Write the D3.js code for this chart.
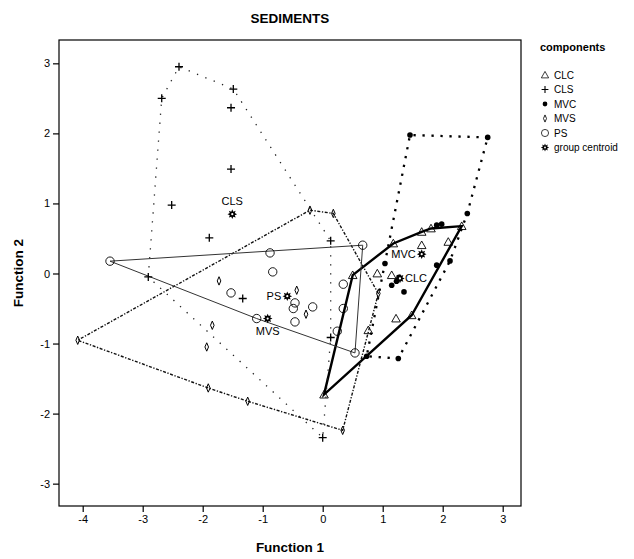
<!DOCTYPE html>
<html><head><meta charset="utf-8">
<script src="https://cdnjs.cloudflare.com/ajax/libs/d3/7.8.5/d3.min.js"></script>
<style>body{margin:0;background:#fff}svg{display:block}text{font-family:Arial,"Liberation Sans",sans-serif}</style>
</head><body><svg id="c" width="634" height="559"></svg>
<script>
// ---- data (Function 1 = x, Function 2 = y) ----
const groups = ["CLC", "CLS", "MVC", "MVS", "PS"];
const clcX = [0.022, 0.500, 1.177, 1.650, 1.805, 2.317, 1.650, 2.093, 0.910, 1.150, 1.222, 1.483, 0.760];
const clcY = [-1.729, -0.024, 0.429, 0.594, 0.643, 0.676, 0.404, 0.451, 0.000, -0.024, -0.643, -0.596, -0.810];
const clsX = [-2.395, -2.683, -1.490, -1.528, -1.528, -2.517, -1.890, -2.907, -1.333, 0.133, 0.133, 0.000];
const clsY = [2.951, 2.500, 2.633, 2.366, 1.490, 0.976, 0.509, -0.049, -0.357, 0.466, -0.914, -2.343];
const mvcX = [1.455, 2.750, 2.410, 1.900, 1.983, 1.038, 1.230, 1.272, 1.150, 1.355, 1.900, 2.122, 0.733, 1.260];
const mvcY = [1.976, 1.943, 0.857, 0.690, 0.704, 0.143, -0.110, -0.053, -0.167, -0.263, 0.119, 0.180, -1.181, -1.214];
const mvsX = [-4.083, -0.212, 0.177, 0.927, 0.333, -1.250, -1.907, -1.840, -1.933, -1.728, -0.433, -0.278];
const mvsY = [-0.953, 0.904, 0.857, -0.286, -2.239, -1.824, -1.634, -0.739, -1.049, -0.106, -0.239, -0.581];
const psX = [-3.545, -0.878, -0.833, -1.528, -0.462, -0.490, -0.167, -0.462, -1.100, 0.343, 0.343, 0.243, 0.538, 0.667];
const psY = [0.176, 0.294, 0.023, -0.277, -0.420, -0.500, -0.477, -0.691, -0.643, -0.153, -0.500, -0.824, -1.134, 0.404];
const centroidX = [1.288, -1.507, 1.650, -0.917, -0.590];
const centroidY = [-0.071, 0.847, 0.276, -0.643, -0.324];
const xTicks = [-4, -3, -2, -1, 0, 1, 2, 3];
const yTicks = [-3, -2, -1, 0, 1, 2, 3];
const legendLabels = ["CLC", "CLS", "MVC", "MVS", "PS", "group centroid"];

const groupX = [clcX, clsX, mvcX, mvsX, psX];
const groupY = [clcY, clsY, mvcY, mvsY, psY];

const svg = d3.select("#c");
const L = 59, R = 521, T = 40, B = 506;
const x = d3.scaleLinear().domain([-4.395, 3.305]).range([L, R]);
const y = d3.scaleLinear().domain([-3.319, 3.333]).range([B, T]);

// hull styles
const hullStyle = {
  CLC: {w: 2.4, dash: null, col: "#000"},
  CLS: {w: 1.3, dash: "1.3,7.7", col: "#222"},
  MVC: {w: 2.3, dash: "2.3,6.7", col: "#000"},
  MVS: {w: 1.4, dash: "3,1.6,1.3,1.6", col: "#111"},
  PS:  {w: 1.0, dash: null, col: "#333"}
};

// markers
function marker(g, type) {
  if (type === "CLC") {
    g.append("path").attr("d", "M0,-4.2L4.3,3.4L-4.3,3.4Z").attr("fill", "none").attr("stroke", "#000").attr("stroke-width", 0.9);
  } else if (type === "CLS") {
    g.append("path").attr("d", "M-4,0H4M0,-4V4").attr("stroke", "#000").attr("stroke-width", 1.3);
  } else if (type === "MVC") {
    g.append("circle").attr("r", 2.8).attr("fill", "#000");
  } else if (type === "MVS") {
    g.append("path").attr("d", "M0,-4.2L1.8,0L0,4.2L-1.8,0Z").attr("fill", "none").attr("stroke", "#000").attr("stroke-width", 1);
  } else if (type === "PS") {
    g.append("circle").attr("r", 4.2).attr("fill", "none").attr("stroke", "#000").attr("stroke-width", 0.9);
  } else {
    const pts = [];
    for (let i = 0; i < 16; i++) {
      const a = i * Math.PI / 8, r = i % 2 === 0 ? 4.8 : 2.7;
      pts.push([r * Math.sin(a), -r * Math.cos(a)]);
    }
    g.append("path").attr("d", "M" + pts.join("L") + "Z").attr("fill", "#000");
    g.append("circle").attr("r", 1.1).attr("fill", "#fff");
  }
}

// hulls
groups.forEach((gname, gi) => {
  const pts = groupX[gi].map((v, i) => [x(v), y(groupY[gi][i])]);
  const hull = d3.polygonHull(pts);
  const st = hullStyle[gname];
  svg.append("path").attr("d", "M" + hull.join("L") + "Z")
    .attr("fill", "none").attr("stroke", st.col).attr("stroke-width", st.w)
    .attr("stroke-dasharray", st.dash).attr("stroke-linejoin", "miter");
});

// points
groups.forEach((gname, gi) => {
  groupX[gi].forEach((v, i) => {
    const g = svg.append("g").attr("transform", `translate(${x(v)},${y(groupY[gi][i])})`);
    marker(g, gname);
  });
});

// centroids + labels
groups.forEach((gname, gi) => {
  const cx = x(centroidX[gi]), cy = y(centroidY[gi]);
  marker(svg.append("g").attr("transform", `translate(${cx},${cy})`), "centroid");
  const t = svg.append("text").attr("font-size", 11).attr("fill", "#000").text(gname);
  if (gname === "CLS") t.attr("x", cx).attr("y", cy - 9).attr("text-anchor", "middle");
  else if (gname === "MVS") t.attr("x", cx).attr("y", cy + 16).attr("text-anchor", "middle");
  else if (gname === "CLC") t.attr("x", cx + 5).attr("y", cy + 4).attr("text-anchor", "start");
  else t.attr("x", cx - 6).attr("y", cy + 4).attr("text-anchor", "end");
});

// frame
svg.append("rect").attr("x", L).attr("y", T).attr("width", R - L).attr("height", B - T)
  .attr("fill", "none").attr("stroke", "#000").attr("stroke-width", 1.2);

// axes
const fmt = d => String(d);
const xa = svg.append("g").attr("transform", `translate(0,${B})`)
  .call(d3.axisBottom(x).tickValues(xTicks).tickSize(6).tickPadding(3).tickFormat(fmt));
const ya = svg.append("g").attr("transform", `translate(${L},0)`)
  .call(d3.axisLeft(y).tickValues(yTicks).tickSize(6).tickPadding(3).tickFormat(fmt));
[xa, ya].forEach(a => {
  a.select(".domain").remove();
  a.selectAll("line").attr("stroke", "#000").attr("stroke-width", 1.2);
  a.selectAll("text").attr("font-size", 11).attr("fill", "#000").attr("font-family", "Arial, 'Liberation Sans', sans-serif");
});

// titles
svg.append("text").attr("x", 290).attr("y", 23).attr("text-anchor", "middle")
  .attr("font-size", 13.5).attr("font-weight", "bold").text("SEDIMENTS");
svg.append("text").attr("x", 290).attr("y", 552).attr("text-anchor", "middle")
  .attr("font-size", 13.5).attr("font-weight", "bold").text("Function 1");
svg.append("text").attr("transform", "translate(23,273) rotate(-90)").attr("text-anchor", "middle")
  .attr("font-size", 13.5).attr("font-weight", "bold").text("Function 2");

// legend
svg.append("text").attr("x", 540).attr("y", 51).attr("font-size", 11).attr("font-weight", "bold").text("components");
legendLabels.forEach((lab, i) => {
  const ly = 75 + i * 14.5;
  const type = i < 5 ? groups[i] : "centroid";
  const g = svg.append("g").attr("transform", `translate(545,${ly}) scale(0.85)`);
  marker(g, type);
  svg.append("text").attr("x", 554).attr("y", ly + 3.5).attr("font-size", 10).text(lab);
});
</script></body></html>
